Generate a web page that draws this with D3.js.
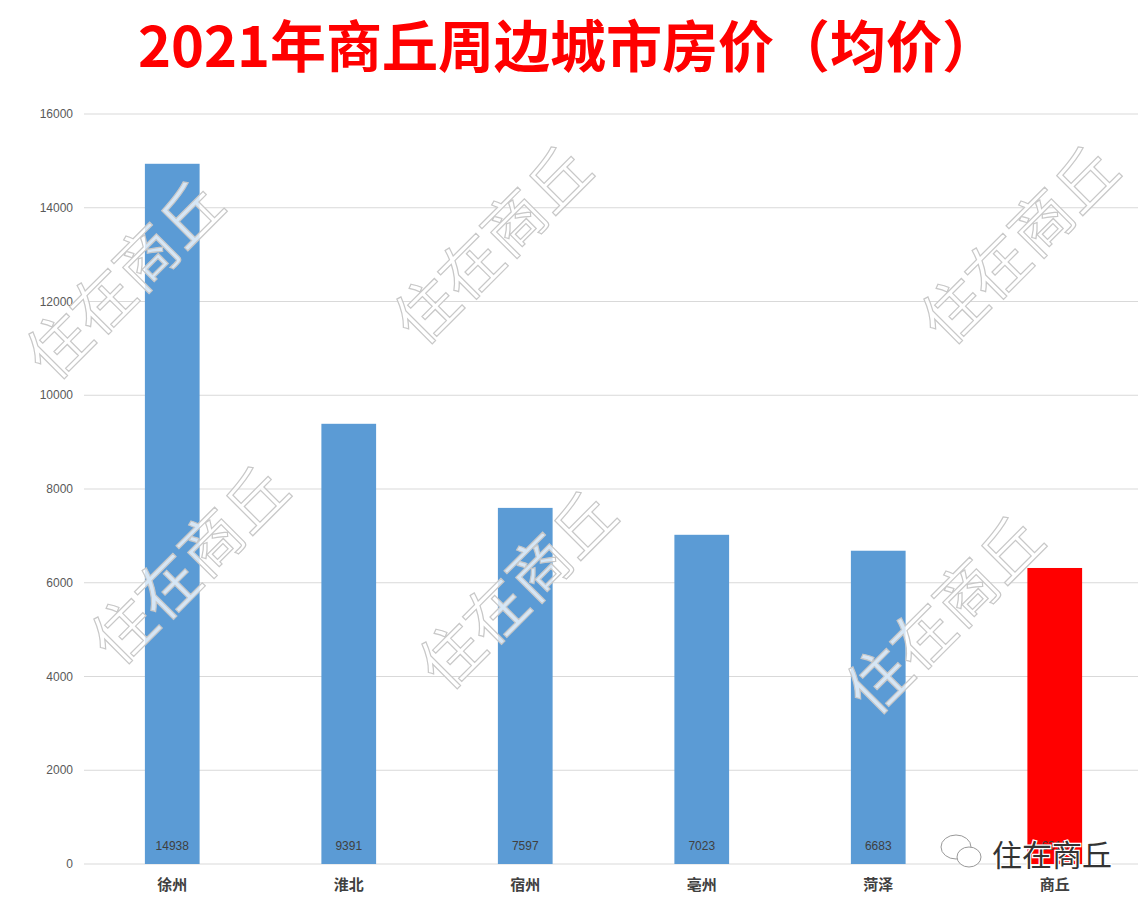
<!DOCTYPE html>
<html><head><meta charset="utf-8">
<script src="https://cdn.jsdelivr.net/npm/d3@7"></script>
<style>body{margin:0;background:#fff}</style>
</head><body>
<svg width="1138" height="905"></svg>
<script>
const cities = ['徐州', '淮北', '宿州', '亳州', '菏泽', '商丘'];
const prices = [14938, 9391, 7597, 7023, 6683, 6315];
const colors = ['#5b9bd5', '#5b9bd5', '#5b9bd5', '#5b9bd5', '#5b9bd5', '#ff0000'];
const yTicks = [0, 2000, 4000, 6000, 8000, 10000, 12000, 14000, 16000];

const svg = d3.select('svg');
const x = d3.scaleBand().domain(cities).range([84, 1143]).paddingInner(0.69).paddingOuter(0.345);
const y = d3.scaleLinear().domain([0, 16000]).range([864, 114]);

svg.append('text').attr('x', 568).attr('y', 67).attr('text-anchor', 'middle')
    .attr('font-family', 'Noto Sans CJK SC').attr('font-weight', 'bold')
    .attr('font-size', 56).attr('fill', '#ff0000').text('2021年商丘周边城市房价（均价）');

// grid
svg.append('g').selectAll('line').data(yTicks).enter().append('line')
    .attr('x1', 84).attr('x2', 1138)
    .attr('y1', d => y(d)).attr('y2', d => y(d))
    .attr('stroke', '#d9d9d9').attr('stroke-width', 1);

svg.append('g').selectAll('text').data(yTicks).enter().append('text')
    .attr('x', 73).attr('y', d => y(d) + 4).attr('text-anchor', 'end')
    .attr('font-family', 'Liberation Sans').attr('font-size', 12).attr('fill', '#595959')
    .text(d => d);

svg.append('g').selectAll('rect').data(cities).enter().append('rect')
    .attr('x', d => x(d)).attr('width', x.bandwidth())
    .attr('y', (d, i) => y(prices[i])).attr('height', (d, i) => 864 - y(prices[i]))
    .attr('fill', (d, i) => colors[i]);

svg.append('g').selectAll('text').data(cities).enter().append('text')
    .attr('x', d => x(d) + x.bandwidth() / 2).attr('y', 850).attr('text-anchor', 'middle')
    .attr('font-family', 'Liberation Sans').attr('font-size', 12).attr('fill', '#404040')
    .text((d, i) => prices[i]);

svg.append('g').selectAll('text').data(cities).enter().append('text')
    .attr('x', d => x(d) + x.bandwidth() / 2).attr('y', 890).attr('text-anchor', 'middle')
    .attr('font-family', 'Noto Sans CJK SC').attr('font-weight', 'bold')
    .attr('font-size', 15).attr('fill', '#404040')
    .text(d => d);

// watermarks
const marks = [[125, 280], [190, 565], [493, 245], [518, 590], [1020, 245], [945, 615]];
svg.append('g').selectAll('text').data(marks).enter().append('text')
    .attr('transform', d => `translate(${d[0]},${d[1]}) rotate(-45)`)
    .attr('text-anchor', 'middle').attr('dy', 22)
    .attr('font-family', 'Noto Sans CJK SC').attr('font-size', 62)
    .attr('fill', 'rgba(255,255,255,0.75)').attr('stroke', '#c8c8c8').attr('stroke-width', 1.2)
    .text('住在商丘');

// logo
const logo = svg.append('g');
logo.append('ellipse').attr('cx', 956).attr('cy', 847).attr('rx', 15).attr('ry', 12)
    .attr('fill', '#fff').attr('stroke', '#999');
logo.append('ellipse').attr('cx', 969).attr('cy', 857).attr('rx', 12).attr('ry', 10)
    .attr('fill', '#fff').attr('stroke', '#999');
logo.append('text').attr('x', 992).attr('y', 866)
    .attr('font-family', 'Noto Sans CJK SC').attr('font-size', 30)
    .attr('fill', '#333').attr('stroke', '#fff').attr('stroke-width', 2.5).attr('paint-order', 'stroke')
    .text('住在商丘');
</script>
</body></html>
